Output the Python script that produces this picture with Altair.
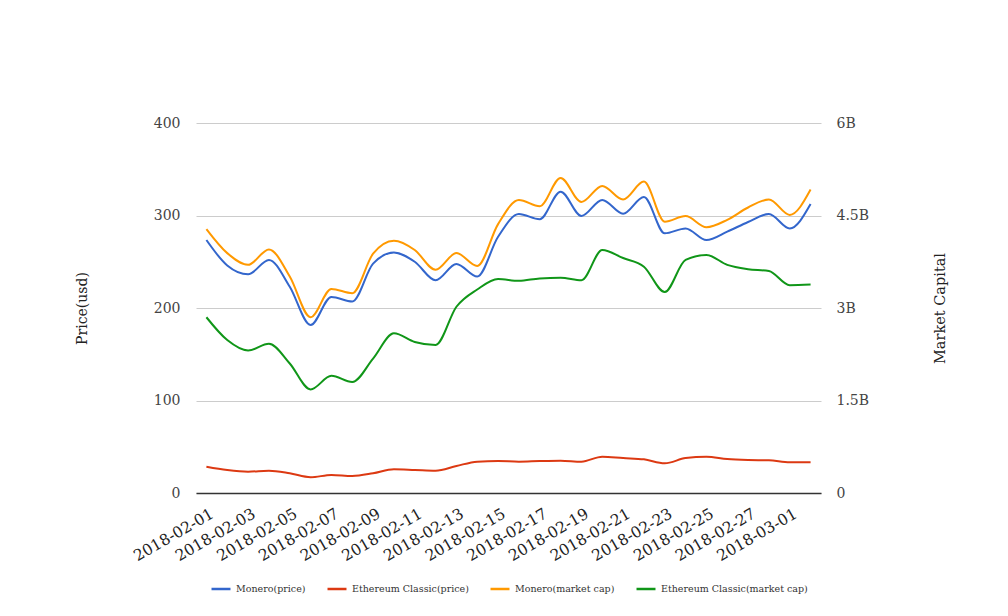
import altair as alt
import pandas as pd

dates = ["2018-02-01", "2018-02-02", "2018-02-03", "2018-02-04", "2018-02-05",
         "2018-02-06", "2018-02-07", "2018-02-08", "2018-02-09", "2018-02-10",
         "2018-02-11", "2018-02-12", "2018-02-13", "2018-02-14", "2018-02-15",
         "2018-02-16", "2018-02-17", "2018-02-18", "2018-02-19", "2018-02-20",
         "2018-02-21", "2018-02-22", "2018-02-23", "2018-02-24", "2018-02-25",
         "2018-02-26", "2018-02-27", "2018-02-28", "2018-03-01", "2018-03-02"]

monero_price = [273.5, 246, 236.4, 252, 223, 181.6, 212, 207, 248, 260,
                250, 230, 247.6, 234, 277, 301.6, 296, 325.8, 299.5, 316.8,
                302, 320, 280.7, 286, 273.5, 282.5, 293, 301.6, 286, 312.4]
etc_price = [28.5, 24.9, 23.1, 24.1, 21.3, 17, 19.5, 18.4, 21.3, 25.6,
             24.9, 24.1, 29.2, 33.9, 34.6, 33.9, 34.6, 35, 33.9, 39.3,
             37.8, 36.4, 32.1, 37.8, 39.3, 36.8, 35.7, 35.3, 33.2, 33.2]
# market caps in billions USD
monero_cap = [4.28, 3.89, 3.70, 3.95, 3.51, 2.85, 3.31, 3.24, 3.88, 4.09,
              3.94, 3.62, 3.89, 3.68, 4.36, 4.75, 4.65, 5.11, 4.72, 4.98,
              4.76, 5.05, 4.40, 4.49, 4.31, 4.43, 4.63, 4.76, 4.51, 4.92]
etc_cap = [2.85, 2.48, 2.31, 2.42, 2.10, 1.68, 1.90, 1.80, 2.18, 2.59,
           2.45, 2.40, 3.02, 3.30, 3.47, 3.44, 3.48, 3.49, 3.45, 3.94,
           3.81, 3.67, 3.26, 3.78, 3.86, 3.70, 3.63, 3.60, 3.37, 3.38]

series_names = ["Monero(price)", "Ethereum Classic(price)",
                "Monero(market cap)", "Ethereum Classic(market cap)"]
series_colors = ["#3366cc", "#dc3912", "#ff9900", "#109618"]
tick_dates = dates[0:29:2]

rows = []
for name, kind, vals in [(series_names[0], "price", monero_price),
                         (series_names[1], "price", etc_price),
                         (series_names[2], "cap", monero_cap),
                         (series_names[3], "cap", etc_cap)]:
    for d, v in zip(dates, vals):
        rows.append({"date": d, "value": v, "series": name, "kind": kind})
df = pd.DataFrame(rows)

FONT = "DejaVu Serif"

color = alt.Color(
    "series:N",
    scale=alt.Scale(domain=series_names, range=series_colors),
    legend=alt.Legend(
        title=None, orient="none", direction="horizontal",
        legendX=14, legendY=455,
        symbolType="stroke", symbolSize=360, symbolStrokeWidth=2.5,
        labelFont=FONT, labelFontSize=9.5, labelColor="#333",
        columnPadding=16, labelOffset=4,
    ),
)

x = alt.X(
    "date:O", sort=dates, title=None,
    axis=alt.Axis(values=tick_dates, labelAngle=-30, labelAlign="right",
                  labelBaseline="top", ticks=False, tickSize=0, labelPadding=13,
                  labelOffset=2,
                  domainColor="#333", domainWidth=1.5, grid=False,
                  labelFont=FONT, labelFontSize=15.5, labelColor="#222"),
)

base = alt.Chart(df)

price = base.transform_filter(alt.datum.kind == "price").mark_line(
    interpolate="monotone", strokeWidth=2
).encode(
    x=x,
    y=alt.Y("value:Q", scale=alt.Scale(domain=[0, 400]), title="Price(usd)",
            axis=alt.Axis(orient="left", values=[0, 100, 200, 300, 400],
                          grid=True, gridColor="#ccc", domain=False, ticks=False,
                          tickSize=0, labelPadding=16, titlePadding=64,
                          labelFont=FONT, labelFontSize=14, labelColor="#444",
                          titleFont=FONT, titleFontSize=14, titleFontWeight="normal",
                          titleColor="#222")),
    color=color,
)

cap = base.transform_filter(alt.datum.kind == "cap").mark_line(
    interpolate="monotone", strokeWidth=2
).encode(
    x=x,
    y=alt.Y("value:Q", scale=alt.Scale(domain=[0, 6]), title="Market Capital",
            axis=alt.Axis(orient="right", values=[0, 1.5, 3, 4.5, 6],
                          labelExpr="datum.value == 0 ? '0' : format(datum.value, '~g') + 'B'",
                          grid=False, domain=False, ticks=False, tickSize=0,
                          labelPadding=15, titlePadding=79, titleAngle=-90,
                          labelFont=FONT, labelFontSize=14, labelColor="#444",
                          titleFont=FONT, titleFontSize=14.5, titleFontWeight="normal",
                          titleColor="#222")),
    color=color,
)

chart = alt.layer(price, cap).resolve_scale(y="independent").properties(
    width=625, height=370,
    background="white",
    autosize=alt.AutoSizeParams(type="none"),
    padding={"left": 188, "top": 115, "right": 179, "bottom": 110},
).configure_view(stroke=None)

chart.save("out.html", embed_options={"renderer": "svg", "actions": False})
